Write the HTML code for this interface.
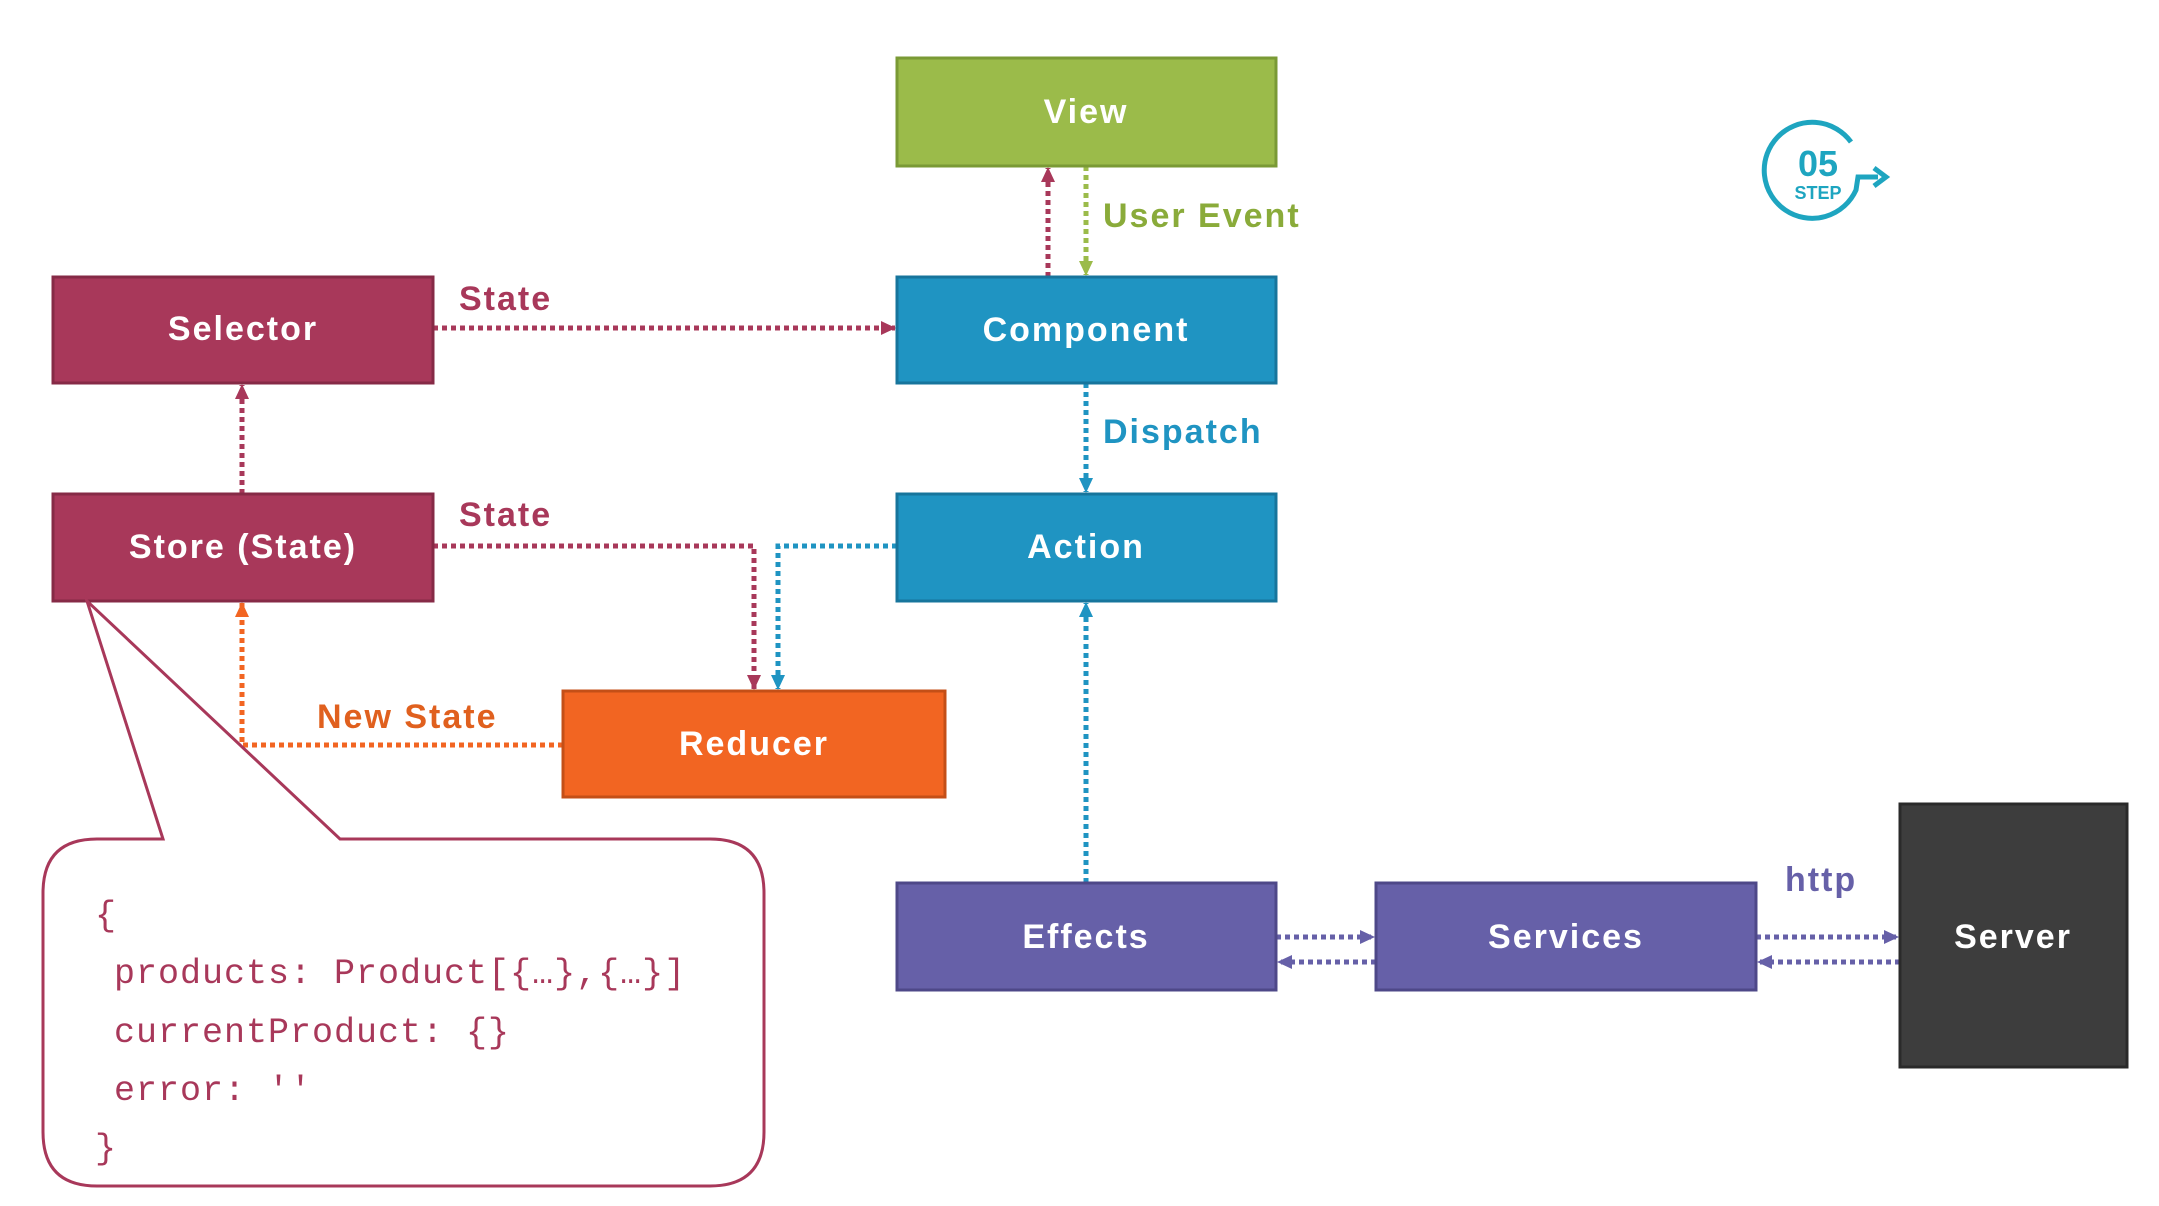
<!DOCTYPE html>
<html><head><meta charset="utf-8"><style>
body{margin:0;background:#fff;}
svg text{font-family:"Liberation Sans",sans-serif;font-weight:bold;}
.m{font-family:'Liberation Mono',monospace !important;font-weight:normal !important;letter-spacing:1px}
</style></head><body>
<svg width="2159" height="1201" viewBox="0 0 2159 1201" xmlns="http://www.w3.org/2000/svg">
<defs>
<marker id="am" markerWidth="16" markerHeight="16" refX="14" refY="8" orient="auto" markerUnits="userSpaceOnUse"><path d="M0,1 L15,8 L0,15 z" fill="#a8385a"/></marker>
<marker id="ab" markerWidth="16" markerHeight="16" refX="14" refY="8" orient="auto" markerUnits="userSpaceOnUse"><path d="M0,1 L15,8 L0,15 z" fill="#1f94c2"/></marker>
<marker id="ag" markerWidth="16" markerHeight="16" refX="14" refY="8" orient="auto" markerUnits="userSpaceOnUse"><path d="M0,1 L15,8 L0,15 z" fill="#9bbb4a"/></marker>
<marker id="ao" markerWidth="16" markerHeight="16" refX="14" refY="8" orient="auto" markerUnits="userSpaceOnUse"><path d="M0,1 L15,8 L0,15 z" fill="#f26522"/></marker>
<marker id="ap" markerWidth="16" markerHeight="16" refX="14" refY="8" orient="auto" markerUnits="userSpaceOnUse"><path d="M0,1 L15,8 L0,15 z" fill="#6660a8"/></marker>
</defs>
<g stroke-width="5" fill="none" stroke-dasharray="5 4">
<path d="M1048 277 V168" stroke="#a8385a" marker-end="url(#am)"/>
<path d="M1086 166 V275" stroke="#9bbb4a" marker-end="url(#ag)"/>
<path d="M433 328 H895" stroke="#a8385a" marker-end="url(#am)"/>
<path d="M1086 383 V492" stroke="#1f94c2" marker-end="url(#ab)"/>
<path d="M242 494 V385" stroke="#a8385a" marker-end="url(#am)"/>
<path d="M433 546 H754 V689" stroke="#a8385a" marker-end="url(#am)"/>
<path d="M897 546 H778 V689" stroke="#1f94c2" marker-end="url(#ab)"/>
<path d="M563 745 H242 V603" stroke="#f26522" marker-end="url(#ao)"/>
<path d="M1086 883 V603" stroke="#1f94c2" marker-end="url(#ab)"/>
<path d="M1276 937 H1374" stroke="#6660a8" marker-end="url(#ap)"/>
<path d="M1376 962 H1278" stroke="#6660a8" marker-end="url(#ap)"/>
<path d="M1756 937 H1898" stroke="#6660a8" marker-end="url(#ap)"/>
<path d="M1900 962 H1758" stroke="#6660a8" marker-end="url(#ap)"/>
</g>
<g stroke-width="3">
<rect x="897" y="58" width="379" height="108" fill="#9bbb4a" stroke="#7a9a35"/>
<rect x="897" y="277" width="379" height="106" fill="#1f94c2" stroke="#17759c"/>
<rect x="897" y="494" width="379" height="107" fill="#1f94c2" stroke="#17759c"/>
<rect x="53" y="277" width="380" height="106" fill="#a8385a" stroke="#862a46"/>
<rect x="53" y="494" width="380" height="107" fill="#a8385a" stroke="#862a46"/>
<rect x="563" y="691" width="382" height="106" fill="#f26522" stroke="#c44f17"/>
<rect x="897" y="883" width="379" height="107" fill="#6660a8" stroke="#4e4888"/>
<rect x="1376" y="883" width="380" height="107" fill="#6660a8" stroke="#4e4888"/>
<rect x="1900" y="804" width="227" height="263" fill="#3d3d3d" stroke="#2a2a2a"/>
</g>
<path d="M163 839 L87 601 L340 839 H710 Q764 839 764 893 V1132 Q764 1186 710 1186 H97 Q43 1186 43 1132 V893 Q43 839 97 839 Z" fill="#fff" stroke="#a8385a" stroke-width="3"/>
<g fill="#fff" font-size="34" text-anchor="middle" style="letter-spacing:2px">
<text x="1086" y="123">View</text>
<text x="1086" y="341">Component</text>
<text x="1086" y="558">Action</text>
<text x="243" y="340">Selector</text>
<text x="243" y="558">Store (State)</text>
<text x="754" y="755">Reducer</text>
<text x="1086" y="948">Effects</text>
<text x="1566" y="948">Services</text>
<text x="2013" y="948">Server</text>
</g>
<g font-size="34" style="letter-spacing:2px">
<text x="459" y="310" fill="#a8385a">State</text>
<text x="459" y="526" fill="#a8385a">State</text>
<text x="1103" y="227" fill="#8aab3a">User Event</text>
<text x="1103" y="443" fill="#1f94c2">Dispatch</text>
<text x="317" y="728" fill="#e0601e">New State</text>
<text x="1785" y="891" fill="#6660a8">http</text>
</g>
<g font-size="35" fill="#a8385a">
<text class="m" x="95" y="925">{</text>
<text class="m" x="114" y="983">products: Product[{…},{…}]</text>
<text class="m" x="114" y="1042">currentProduct: {}</text>
<text class="m" x="114" y="1100">error: ''</text>
<text class="m" x="95" y="1158">}</text>
</g>
<path d="M1851 142 A48 48 0 1 0 1856 190 L1858 177 H1878" fill="none" stroke="#1ea5c0" stroke-width="5"/>
<path d="M1874 168 L1886 177 L1874 186" fill="none" stroke="#1ea5c0" stroke-width="5"/>
<text x="1818" y="176" fill="#1ea5c0" font-size="36" text-anchor="middle">05</text>
<text x="1818" y="199" fill="#1ea5c0" font-size="18" text-anchor="middle">STEP</text>
</svg>
</body></html>
